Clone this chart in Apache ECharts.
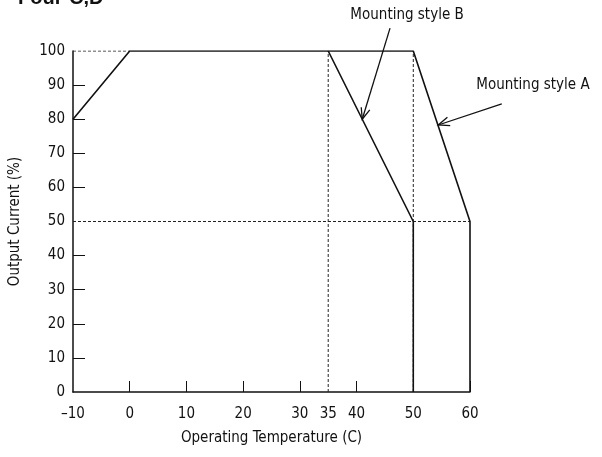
<!DOCTYPE html>
<html><head><meta charset="utf-8">
<script src="https://cdn.jsdelivr.net/npm/echarts@6/dist/echarts.min.js"></script>
<style>html,body{margin:0;padding:0;background:#fff}#c{width:602px;height:457px}</style>
</head><body><div id="c"></div>
<script>
const FONT = '"Liberation Sans Narrow","DejaVu Sans Condensed","Roboto Condensed",sans-serif';
const titleText = 'Four-C,D';
const xTickValues = [0, 10, 20, 30, 40, 50, 60];
const xLabelValues = [-10, 0, 10, 20, 30, 35, 40, 50, 60];
const yTickValues = [10, 20, 30, 40, 60, 70, 80, 90];
const styleA = [[-10, 80], [0, 100], [50, 100], [60, 50], [60, 0]];
const styleB = [[35, 100], [50, 50], [50, 0]];
const refH100 = [[-10, 100], [0, 100]];
const refH50 = [[-10, 50], [60, 50]];
const refV35 = [[35, 0], [35, 100]];
const refV50 = [[50, 0], [50, 100]];
const arrowB = [[45.9, 106.7], [41, 80]];
const arrowA = [[65.6, 84.5], [54.4, 78.3]];
const labelNames = ['Mounting style B', 'Mounting style A'];
const labelPos = [[48.9, 110.6], [71.1, 90.0]];

const chart = echarts.init(document.getElementById('c'), null, {renderer: 'canvas'});
const dashed = (data) => ({
  type: 'line', data, symbol: 'none', silent: true, z: 1,
  lineStyle: {color: '#222', width: 1, type: [3, 2]}
});
const solid = (data) => ({
  type: 'line', data, symbol: 'none', silent: true, z: 3,
  lineStyle: {color: '#111', width: 1.6}
});
const arrowSeries = (pts) => ({
  type: 'custom', silent: true, clip: false, z: 4,
  data: [0],
  renderItem: (params, api) => {
    const p0 = api.coord(pts[0]);
    const p1 = api.coord(pts[1]);
    const ang = Math.atan2(p1[1] - p0[1], p1[0] - p0[0]);
    const L = 12, a = 0.38;
    const h1 = [p1[0] - L * Math.cos(ang - a), p1[1] - L * Math.sin(ang - a)];
    const h2 = [p1[0] - L * Math.cos(ang + a), p1[1] - L * Math.sin(ang + a)];
    const st = {stroke: '#111', lineWidth: 1.3, fill: null};
    return {type: 'group', children: [
      {type: 'polyline', shape: {points: [p0, p1.slice()]}, style: st},
      {type: 'polyline', shape: {points: [h1, p1.slice(), h2]}, style: st}
    ]};
  }
});
const labelSeries = {
  type: 'custom', silent: true, clip: false, z: 5,
  data: labelNames.map((n, i) => [labelPos[i][0], labelPos[i][1], i]),
  renderItem: (params, api) => {
    const p = api.coord([api.value(0), api.value(1)]);
    return {type: 'text', x: p[0], y: p[1], style: {
      text: labelNames[api.value(2)], x: 0, y: 0, align: 'center', verticalAlign: 'middle',
      font: '15px ' + FONT, fill: '#111'
    }};
  }
};

chart.setOption({
  animation: false,
  backgroundColor: '#fff',
  title: {text: titleText, left: 13, top: -17,
    textStyle: {fontFamily: 'Liberation Sans, Arial, sans-serif', fontWeight: 'bold', fontSize: 20, color: '#111'}},
  grid: {left: 73, right: 132, top: 51, bottom: 65},
  xAxis: {
    type: 'value', min: -10, max: 60,
    name: 'Operating Temperature (C)', nameLocation: 'middle', nameGap: 39,
    nameTextStyle: {fontFamily: FONT, fontSize: 15, color: '#111'},
    splitLine: {show: false},
    axisLine: {show: true, onZero: false, lineStyle: {color: '#111', width: 1.5}},
    axisTick: {show: true, inside: true, length: 11, customValues: xTickValues, lineStyle: {color: '#111', width: 1}},
    axisLabel: {customValues: xLabelValues, margin: 15, fontFamily: FONT, fontSize: 15, color: '#111',
      formatter: v => String(v).replace('-', '\u2013')}
  },
  yAxis: {
    type: 'value', min: 0, max: 100, interval: 10,
    name: 'Output Current (%)', nameLocation: 'middle', nameGap: 50, nameRotate: 90,
    nameTextStyle: {fontFamily: FONT, fontSize: 15, color: '#111'},
    splitLine: {show: false},
    axisLine: {show: true, onZero: false, lineStyle: {color: '#111', width: 1.5}},
    axisTick: {show: true, inside: true, length: 12, customValues: yTickValues, lineStyle: {color: '#111', width: 1}},
    axisLabel: {margin: 8, fontFamily: FONT, fontSize: 15, color: '#111'}
  },
  series: [
    dashed(refH100), dashed(refH50), dashed(refV35), dashed(refV50),
    solid(styleA), solid(styleB),
    arrowSeries(arrowB), arrowSeries(arrowA),
    labelSeries
  ]
});
</script></body></html>
